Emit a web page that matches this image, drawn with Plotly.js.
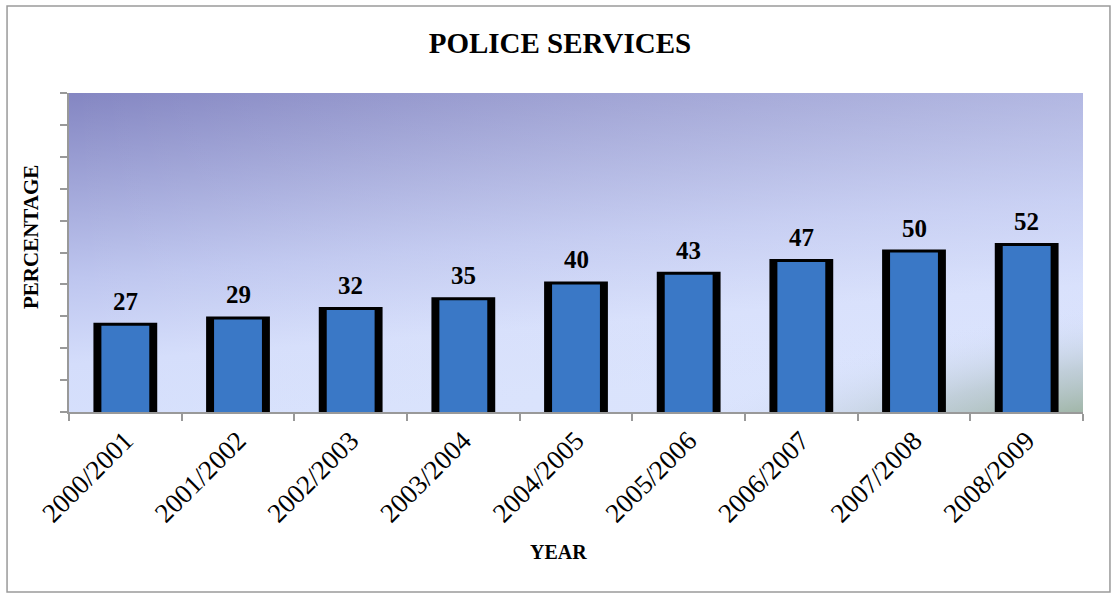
<!DOCTYPE html>
<html>
<head>
<meta charset="utf-8">
<script src="https://cdn.plot.ly/plotly-3.0.1.min.js"></script>
<style>html,body{margin:0;padding:0;background:#fff;}#chart{width:1111px;height:593px;}</style>
</head>
<body>
<div id="chart"></div>
<script>
var years = ["2000/2001","2001/2002","2002/2003","2003/2004","2004/2005","2005/2006","2006/2007","2007/2008","2008/2009"];
var percentages = [27, 29, 32, 35, 40, 43, 47, 50, 52];
var chartTitle = "POLICE SERVICES";
var xTitle = "YEAR";
var yTitle = "PERCENTAGE";

var serif = "Liberation Serif, Times New Roman, serif";

var bgSvg = '<svg xmlns="http://www.w3.org/2000/svg" width="1000" height="320" viewBox="0 0 1000 320" preserveAspectRatio="none">' +
  '<defs>' +
  '<linearGradient id="g" x1="0" y1="0" x2="0.25" y2="1">' +
  '<stop offset="0" stop-color="#8486c2"/>' +
  '<stop offset="0.55" stop-color="#bec6ef"/>' +
  '<stop offset="0.8" stop-color="#d4ddfb"/>' +
  '<stop offset="1" stop-color="#d6e0fc"/>' +
  '</linearGradient>' +
  '<linearGradient id="h" x1="0" y1="0" x2="1" y2="0">' +
  '<stop offset="0" stop-color="#ffffff" stop-opacity="0"/>' +
  '<stop offset="1" stop-color="#e4eaff" stop-opacity="0.3"/>' +
  '</linearGradient>' +
  '<radialGradient id="r" gradientUnits="userSpaceOnUse" cx="0" cy="0" r="1" gradientTransform="translate(1010 335) rotate(-8) scale(470 120)">' +
  '<stop offset="0" stop-color="#8fa98c" stop-opacity="0.95"/>' +
  '<stop offset="0.5" stop-color="#a7bab6" stop-opacity="0.5"/>' +
  '<stop offset="1" stop-color="#d6e0fc" stop-opacity="0"/>' +
  '</radialGradient>' +
  '</defs>' +
  '<rect width="1000" height="320" fill="url(#g)"/>' +
  '<rect width="1000" height="320" fill="url(#h)"/>' +
  '<rect width="1000" height="320" fill="url(#r)"/>' +
  '</svg>';
var bgUri = 'data:image/svg+xml;charset=utf-8,' + encodeURIComponent(bgSvg);

var outline = {
  type: 'bar',
  x: years,
  y: percentages,
  width: 0.513,
  marker: {color: '#000000', line: {color: '#000000', width: 6}},
  hoverinfo: 'skip'
};
var fill = {
  type: 'bar',
  x: years,
  y: percentages,
  width: 0.425,
  marker: {color: '#3a78c6', line: {width: 0}},
  hoverinfo: 'x+y'
};

var annotations = years.map(function (yr, i) {
  return {
    x: yr, y: percentages[i], xref: 'x', yref: 'y',
    text: '<b>' + percentages[i] + '</b>',
    showarrow: false, yanchor: 'bottom', yshift: 9,
    font: {family: serif, size: 25, color: '#000'}
  };
});
annotations.push({
  xref: 'paper', yref: 'paper', x: -0.038, y: 0.55,
  text: '<b>' + yTitle + '</b>', textangle: -90, showarrow: false,
  xanchor: 'center', yanchor: 'middle',
  font: {family: serif, size: 21, color: '#000'}
});
annotations.push({
  xref: 'paper', yref: 'paper', x: 0.483, y: -0.44,
  text: '<b>' + xTitle + '</b>', showarrow: false,
  xanchor: 'center', yanchor: 'middle',
  font: {family: serif, size: 20, color: '#000'}
});

var layout = {
  width: 1111, height: 593,
  margin: {l: 69, r: 28, t: 93, b: 181, pad: 0},
  paper_bgcolor: '#ffffff',
  plot_bgcolor: 'rgba(0,0,0,0)',
  showlegend: false,
  barmode: 'overlay',
  title: {
    text: '<b>' + chartTitle + '</b>',
    x: 0.504, xanchor: 'center', xref: 'container',
    y: 0.927, yanchor: 'middle', yref: 'container',
    font: {family: serif, size: 29, color: '#000'}
  },
  xaxis: {
    type: 'category',
    showgrid: false, zeroline: false,
    showline: true, linecolor: '#999999', linewidth: 2,
    ticks: 'outside', tickson: 'boundaries', ticklen: 7, tickcolor: '#999999', tickwidth: 2,
    tickangle: -45,
    tickfont: {family: serif, size: 27, color: '#000'}
  },
  yaxis: {
    range: [0, 100], dtick: 10, tick0: 0,
    showgrid: false, zeroline: false,
    showline: true, linecolor: '#999999', linewidth: 2,
    ticks: 'outside', ticklen: 7, tickcolor: '#999999', tickwidth: 2,
    showticklabels: false
  },
  images: [{
    source: bgUri, xref: 'paper', yref: 'paper',
    x: 0, y: 1, sizex: 1, sizey: 1, xanchor: 'left', yanchor: 'top',
    sizing: 'stretch', layer: 'below'
  }],
  shapes: [{
    type: 'rect', xref: 'paper', yref: 'paper',
    x0: -0.0611, x1: 1.0266, y0: -0.5643, y1: 1.2727,
    line: {color: '#9a9a9a', width: 1.5}, fillcolor: 'rgba(0,0,0,0)'
  }],
  annotations: annotations
};

Plotly.newPlot('chart', [outline, fill], layout, {displayModeBar: false, staticPlot: true});
</script>
</body>
</html>
